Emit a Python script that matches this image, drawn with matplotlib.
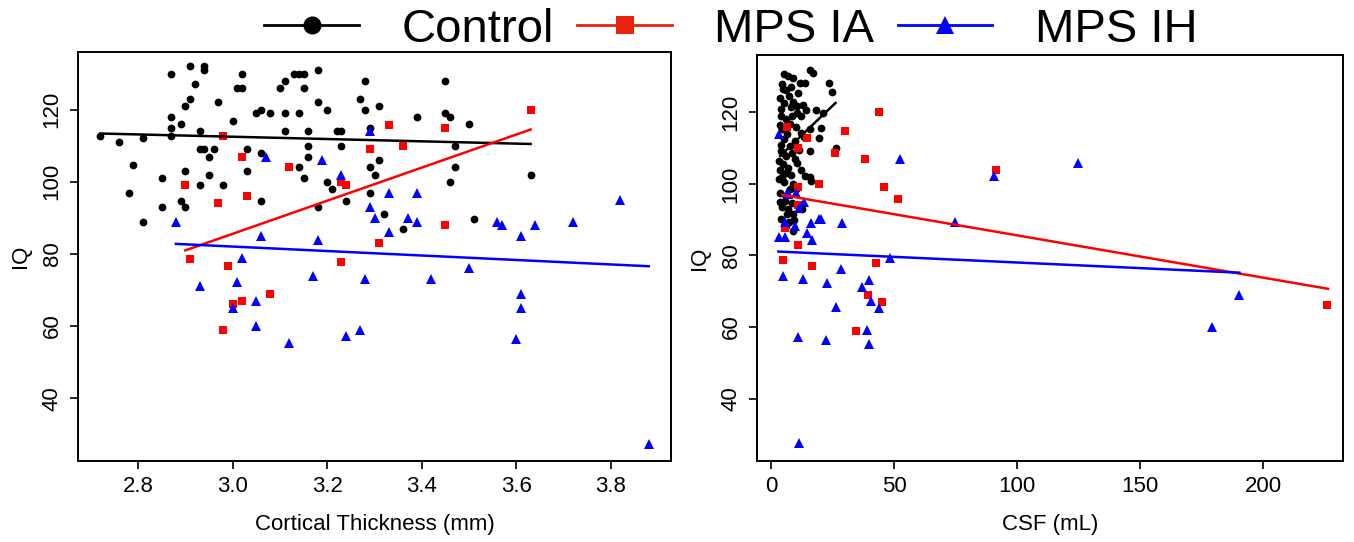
import matplotlib
matplotlib.use("Agg")
import matplotlib.pyplot as plt
from matplotlib.lines import Line2D

plt.rcParams['font.family'] = ['Liberation Sans', 'DejaVu Sans']

# ---------------- data ----------------
group_names = ["Control", "MPS IA", "MPS IH"]

# Left panel: cortical thickness (mm) vs IQ
ct_ctrl_x = [2.72, 2.76, 2.79, 2.78, 2.81, 2.81, 2.85, 2.85, 2.87, 2.87, 2.87, 2.87, 2.89, 2.89,
             2.90, 2.90, 2.90, 2.91, 2.91, 2.92, 2.93, 2.93, 2.93, 2.94, 2.94, 2.94, 2.95, 2.95,
             2.96, 2.97, 2.98, 3.00, 3.02, 3.01, 3.02, 3.03, 3.03, 3.05, 3.06, 3.06, 3.06, 3.08,
             3.10, 3.11, 3.11, 3.11, 3.13, 3.14, 3.15, 3.14, 3.14, 3.15, 3.15, 3.16, 3.16, 3.16,
             3.18, 3.18, 3.18, 3.20, 3.20, 3.21, 3.22, 3.23, 3.23, 3.24, 3.27, 3.28, 3.28, 3.29,
             3.29, 3.29, 3.30, 3.31, 3.31, 3.32, 3.36, 3.39, 3.45, 3.45, 3.46, 3.46, 3.47, 3.47,
             3.50, 3.51, 3.63]
ct_ctrl_iq = [112.8, 111, 104.8, 96.9, 112.2, 88.9, 101, 93, 130, 118, 115, 112.8, 116, 94.8,
              103, 93, 121, 123, 132, 127, 114, 109, 99, 109, 132, 131, 107, 102,
              109, 122, 99, 117, 130, 126, 126, 109, 103, 119, 120, 108, 94.8, 119,
              126, 128, 119, 114, 130, 130, 130, 119, 104, 126, 101, 114, 110, 107,
              131, 122, 93, 120, 100, 98, 114, 114, 110, 94.8, 123, 128, 120, 115,
              104, 97, 102, 121, 106, 91, 86.8, 118, 128, 119, 118, 100, 110, 104,
              116, 89.8, 102]

ct_ia_x = [2.98, 2.90, 2.97, 3.02, 3.03, 3.12, 2.91, 2.99, 3.00, 3.02, 3.08, 2.98, 3.23, 3.24,
           3.23, 3.29, 3.33, 3.36, 3.31, 3.45, 3.45, 3.63]
ct_ia_iq = [112.8, 99, 94, 107, 96, 104, 78.7, 76.8, 66, 67, 68.8, 58.9, 100, 99,
            77.8, 109, 115.8, 110, 83, 115, 88, 120]

ct_ih_x = [2.88, 2.93, 3.07, 3.06, 3.02, 3.01, 3.00, 3.05, 3.05, 3.12, 3.17, 3.18, 3.19, 3.23,
           3.24, 3.27, 3.28, 3.29, 3.29, 3.30, 3.33, 3.33, 3.37, 3.39, 3.39, 3.42, 3.50, 3.56,
           3.57, 3.60, 3.61, 3.61, 3.61, 3.64, 3.72, 3.82, 3.88]
ct_ih_iq = [89, 71, 107, 85, 79, 72.3, 65, 67, 60, 55.2, 74, 84, 106, 102,
            57.2, 59, 73, 114, 93, 90, 97, 86, 90, 97, 89, 73, 76, 89,
            88, 56.3, 85, 69, 65, 88, 89, 95, 27.4]

# fitted lines (endpoints)
ct_fit_ctrl_x, ct_fit_ctrl_y = [2.72, 3.63], [113.4, 110.5]
ct_fit_ia_x, ct_fit_ia_y = [2.90, 3.63], [81.0, 114.5]
ct_fit_ih_x, ct_fit_ih_y = [2.88, 3.88], [82.8, 76.6]

# Right panel: CSF (mL) vs IQ
csf_ctrl_x = [5.3, 7.0, 9.1, 11.9, 13.9, 15.8, 17.2, 23.7, 24.6, 4.9, 6.1, 5.3, 9.1, 10.5,
              12.8, 14.4, 18.4, 21.0, 3.9, 6.1, 8.4, 10.5, 7.9, 4.4, 12.3, 15.8, 20.2, 19.6,
              5.3, 9.6, 7.9, 15.8, 26.3, 3.9, 6.1, 9.6, 4.9, 7.0, 10.5, 3.5, 6.1, 14.0,
              15.8, 16.1, 3.2, 5.3, 9.1, 7.9, 10.2, 5.6, 8.4, 6.7, 12.6, 8.8, 4.0, 7.4,
              8.8, 6.1, 4.5, 8.0, 3.5, 7.5, 11.0, 4.2, 8.0, 12.0, 3.8, 10.0, 6.5, 13.5,
              4.0, 11.5, 5.0, 8.5, 3.2, 12.0, 4.5, 8.0, 3.8, 6.5, 4.5, 10.5, 3.5, 6.5, 9.5]
csf_ctrl_iq = [130.7, 130.2, 129.7, 128.1, 128.1, 131.7, 130.9, 128.1, 125.8, 126.5, 126.3, 122.6,
               123.0, 121.7, 122.1, 120.7, 120.7, 119.8, 118.9, 118.0, 118.9, 119.8, 116.6, 115.2,
               114.3, 115.2, 115.6, 112.9, 112.4, 111.9, 110.6, 109.2, 110.1, 109.2, 107.8, 106.9,
               105.5, 104.5, 105.9, 103.9, 103.1, 102.2, 101.8, 100.8, 101.3, 100.4, 99.9, 98.5,
               98.5, 95.3, 94.8, 93.0, 93.1, 91.6, 90.2, 89.4, 86.9, 88.3, 128.0, 127.0,
               124.0, 124.5, 125.5, 121.0, 121.5, 119.0, 116.5, 116.0, 114.0, 113.0, 111.0, 109.5,
               108.5, 108.5, 106.5, 104.0, 102.0, 102.5, 97.5, 97.0, 93.5, 94.0, 95.0, 91.5, 90.0]

csf_ia_x = [6.5, 10.9, 14.6, 26.0, 30.2, 43.9, 38.2, 19.3, 10.9, 46.1, 51.8, 91.6, 5.8, 10.9,
            4.7, 16.7, 42.5, 39.5, 45.1, 34.4, 225.8, 11.0]
csf_ia_iq = [115.8, 110, 112.9, 108.7, 114.7, 120, 106.9, 100, 99, 99, 95.7, 103.9, 87.6, 83,
             78.8, 77, 77.9, 68.9, 67, 59, 66.1, 94]

csf_ih_x = [3.2, 6.7, 10.2, 13.5, 11.4, 5.6, 9.6, 16.1, 19.3, 20.2, 29.0, 3.2, 5.8, 14.6,
            16.7, 4.7, 12.8, 22.8, 28.4, 26.3, 36.8, 39.8, 40.7, 43.9, 48.2, 38.9, 39.8, 10.9,
            22.5, 11.4, 52.5, 74.9, 90.7, 124.6, 179.3, 190.4, 6.5]
csf_ih_iq = [113.8, 97.1, 97.4, 95, 93.4, 89.3, 88.1, 89, 90.2, 90.2, 89, 85.3, 85.3, 86.2,
             84.4, 74.4, 73.3, 72.3, 76.3, 65.5, 71.2, 73.2, 67.2, 65.4, 79.3, 59.2, 55.3, 57.3,
             56.4, 27.5, 107, 89.4, 102.2, 105.9, 60.1, 69.1, 97.5]

csf_fit_ctrl_x, csf_fit_ctrl_y = [3.7, 26.2], [107.8, 122.6]
csf_fit_ia_x, csf_fit_ia_y = [4.6, 226.4], [96.9, 70.7]
csf_fit_ih_x, csf_fit_ih_y = [3.0, 190.4], [81.1, 75.2]

ct_xticks = [2.8, 3.0, 3.2, 3.4, 3.6, 3.8]
csf_xticks = [0, 50, 100, 150, 200]
iq_ticks = [40, 60, 80, 100, 120]

# ---------------- style ----------------
BLACK, RED, BLUE = "black", "#ff0000", "#0000ff"
colors = [BLACK, RED, BLUE]
markers = ["o", "s", "^"]
msizes = [5.6, 5.4, 6.6]

fig = plt.figure(figsize=(13.54, 5.42), dpi=100)
W, H = 1354, 542
ax1 = fig.add_axes([78 / W, (H - 461) / H, (671 - 78) / W, (461 - 52) / H])
ax2 = fig.add_axes([757 / W, (H - 461) / H, (1343 - 757) / W, (461 - 55) / H])


def draw(ax, xs, ys, fits, xlim, xticks, xlabel):
    for x, y, c, m, s in zip(xs, ys, colors, markers, msizes):
        ax.plot(x, y, linestyle="none", marker=m, color=c, markersize=s,
                markeredgewidth=0, zorder=3)
    for (fx, fy), c in zip(fits, colors):
        ax.plot(fx, fy, color=c, lw=1.8, zorder=4)
    ax.set_xlim(*xlim)
    ax.set_ylim(22.6, 136.0)
    ax.set_xticks(xticks)
    ax.set_yticks(iq_ticks)
    if isinstance(xticks[0], float):
        ax.set_xticklabels([f"{t:.1f}" for t in xticks])
    ax.tick_params(axis="both", direction="out", length=6, width=1.2,
                   labelsize=16, pad=5)
    for lab in ax.get_yticklabels():
        lab.set_rotation(90)
        lab.set_va("center")
    for sp in ax.spines.values():
        sp.set_linewidth(1.4)
    ax.set_xlabel(xlabel, fontsize=16, labelpad=12)
    ax.set_ylabel("IQ", fontsize=16, labelpad=8)


draw(ax1, [ct_ctrl_x, ct_ia_x, ct_ih_x], [ct_ctrl_iq, ct_ia_iq, ct_ih_iq],
     [(ct_fit_ctrl_x, ct_fit_ctrl_y), (ct_fit_ia_x, ct_fit_ia_y), (ct_fit_ih_x, ct_fit_ih_y)],
     (2.673, 3.927), ct_xticks, "Cortical Thickness (mm)")
draw(ax2, [csf_ctrl_x, csf_ia_x, csf_ih_x], [csf_ctrl_iq, csf_ia_iq, csf_ih_iq],
     [(csf_fit_ctrl_x, csf_fit_ctrl_y), (csf_fit_ia_x, csf_fit_ia_y), (csf_fit_ih_x, csf_fit_ih_y)],
     (-5.7, 232.5), csf_xticks, "CSF (mL)")

legend_colors = [BLACK, "#e8220d", BLUE]
handles = [Line2D([0], [0], color=c, lw=2, marker=m, markersize=13, markeredgewidth=0)
           for c, m in zip(legend_colors, markers)]
fig.legend(handles, group_names, loc="center", bbox_to_anchor=(731 / W, 1 - 30 / H),
           ncol=3, frameon=False, fontsize=34, handlelength=2.0, handletextpad=0.9,
           columnspacing=0.5, borderpad=0.0, borderaxespad=0.0)

fig.savefig("out.png", dpi=100)
